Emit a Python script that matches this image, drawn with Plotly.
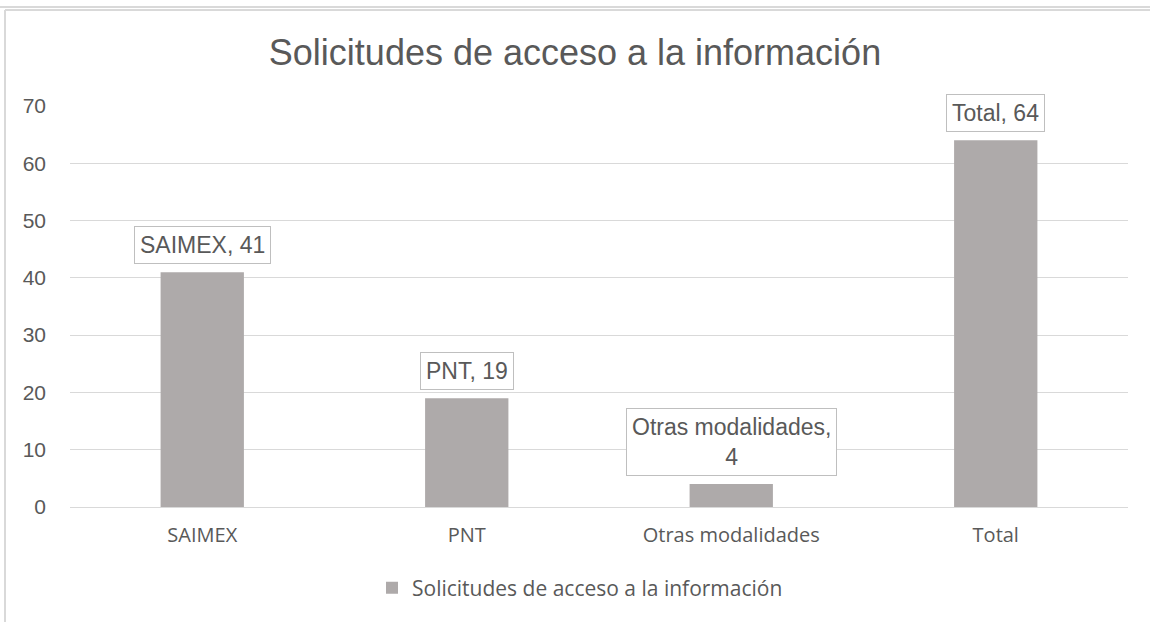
import plotly.graph_objects as go

categories = ["SAIMEX", "PNT", "Otras modalidades", "Total"]
values = [41, 19, 4, 64]
label_texts = ["SAIMEX, 41", "PNT, 19", "Otras modalidades,<br>4", "Total, 64"]
series_name = "Solicitudes de acceso a la información"
title_text = "Solicitudes de acceso a la información"
y_ticks = [0, 10, 20, 30, 40, 50, 60, 70]

W, H = 1150, 622
L, R, T, B = 70, 22, 106, 115
pw = W - L - R
ph = H - T - B

def px(x):
    return (x - L) / pw

def py(y):
    return (H - B - y) / ph

fig = go.Figure()
fig.add_trace(go.Bar(
    x=categories, y=values, name=series_name,
    marker=dict(color="#aeaaaa", line=dict(width=0)),
    width=0.315, showlegend=True,
))

for c, v, t in zip(categories, values, label_texts):
    fig.add_annotation(
        x=c, y=v, text=t, showarrow=False, yanchor="bottom", yshift=8,
        font=dict(family="Liberation Sans, Arial", size=23, color="#595959"),
        bordercolor="#bfbfbf", borderwidth=1, borderpad=5, bgcolor="white",
    )

# outer frame lines
fig.add_shape(type="line", xref="paper", yref="paper", x0=px(0), x1=px(W), y0=py(7), y1=py(7),
              line=dict(color="#d9d9d9", width=2))
fig.add_shape(type="line", xref="paper", yref="paper", x0=px(5), x1=px(W), y0=py(10), y1=py(10),
              line=dict(color="#d9d9d9", width=2))
fig.add_shape(type="line", xref="paper", yref="paper", x0=px(5), x1=px(5), y0=py(10), y1=py(H),
              line=dict(color="#d9d9d9", width=2))

fig.update_layout(
    width=W, height=H,
    margin=dict(l=L, r=R, t=T, b=B),
    paper_bgcolor="white", plot_bgcolor="white",
    title=dict(text=title_text, x=0.5, xanchor="center", y=1 - 52 / H, yanchor="middle",
               font=dict(family="Liberation Sans, Arial", size=36, color="#595959")),
    xaxis=dict(showgrid=False, showline=True, linecolor="#d9d9d9", linewidth=1, ticks="",
               ticklabelstandoff=10,
               tickfont=dict(family="Open Sans", size=20, color="#595959")),
    yaxis=dict(range=[0, 70], tickvals=y_ticks, showgrid=True, gridcolor="#d9d9d9", gridwidth=1,
               zeroline=False, showline=False, ticks="", ticklabelstandoff=23,
               tickfont=dict(family="Liberation Sans, Arial", size=21, color="#595959")),
    legend=dict(orientation="h", x=px(580), xanchor="center", y=py(588), yanchor="middle",
                font=dict(family="Open Sans", size=21, color="#595959"), itemwidth=30),
    bargap=0.685,
)

fig.write_html("out.html", config={"displayModeBar": False},
               post_script="document.body.style.margin='0';")
